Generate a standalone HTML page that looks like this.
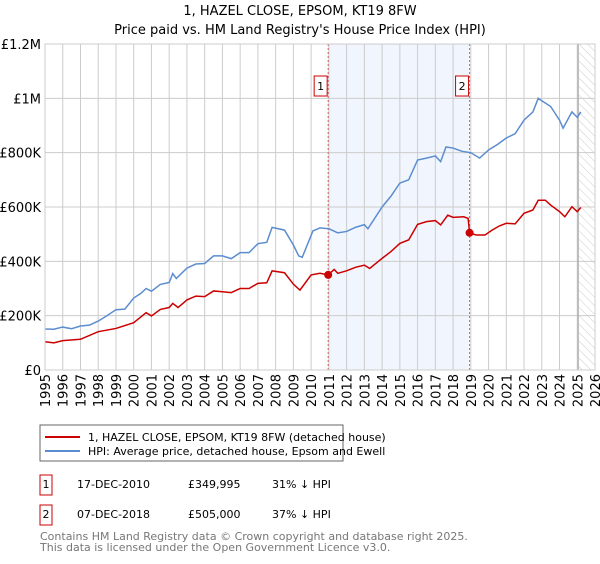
<!DOCTYPE html>
<html><head><meta charset="utf-8"><style>
body{margin:0;background:#fff;font-family:"DejaVu Sans","Liberation Sans",sans-serif;}
svg text{font-family:"DejaVu Sans","Liberation Sans",sans-serif;}
</style></head><body>
<svg id="c" width="600" height="560" xmlns="http://www.w3.org/2000/svg">
<defs><pattern id="hatch" width="6" height="6" patternUnits="userSpaceOnUse" patternTransform="rotate(-45)"><line x1="0" y1="0" x2="0" y2="6" stroke="#ccc" stroke-width="1"/></pattern></defs>
<text x="300" y="15" text-anchor="middle" font-size="13">1, HAZEL CLOSE, EPSOM, KT19 8FW</text>
<text x="300" y="34" text-anchor="middle" font-size="13">Price paid vs. HM Land Registry's House Price Index (HPI)</text>
<g id="grid"></g><g id="marks"></g>
<rect x="40" y="425" width="303" height="36" fill="#fff" stroke="#666"/>
<line x1="45" y1="437" x2="80" y2="437" stroke="#cc0000" stroke-width="2"/>
<text x="88" y="441" font-size="11">1, HAZEL CLOSE, EPSOM, KT19 8FW (detached house)</text>
<line x1="45" y1="451" x2="80" y2="451" stroke="#5b8dd0" stroke-width="2"/>
<text x="88" y="455" font-size="11">HPI: Average price, detached house, Epsom and Ewell</text>
<g font-size="11">
<rect x="40" y="475" width="12" height="20" fill="none" stroke="#cc0000"/>
<text x="46" y="488" text-anchor="middle">1</text>
<text x="77" y="488">17-DEC-2010</text><text x="188" y="488">£349,995</text><text x="272" y="488">31% ↓ HPI</text>
<rect x="40" y="505" width="12" height="20" fill="none" stroke="#cc0000"/>
<text x="46" y="518" text-anchor="middle">2</text>
<text x="77" y="518">07-DEC-2018</text><text x="188" y="518">£505,000</text><text x="272" y="518">37% ↓ HPI</text>
</g>
<text x="40" y="540" font-size="11" fill="#777">Contains HM Land Registry data © Crown copyright and database right 2025.</text>
<text x="40" y="551" font-size="11" fill="#777">This data is licensed under the Open Government Licence v3.0.</text>
</svg>
<script>
const yTicks=[0,200000,400000,600000,800000,1000000,1200000];
const yTickLabels=["£0","£200K","£400K","£600K","£800K","£1M","£1.2M"];
const xYears=[1995,1996,1997,1998,1999,2000,2001,2002,2003,2004,2005,2006,2007,2008,2009,2010,2011,2012,2013,2014,2015,2016,2017,2018,2019,2020,2021,2022,2023,2024,2025,2026];
const hpiT=[1995,1995.5,1996,1996.5,1997,1997.5,1998,1998.5,1999,1999.5,2000,2000.4,2000.7,2001,2001.5,2002,2002.2,2002.4,2003,2003.5,2004,2004.5,2005,2005.5,2006,2006.5,2007,2007.5,2007.8,2008.5,2009,2009.3,2009.5,2010.1,2010.5,2011,2011.5,2012,2012.5,2013,2013.2,2014,2014.5,2015,2015.5,2016,2016.5,2017,2017.3,2017.6,2018,2018.5,2019,2019.5,2020,2020.5,2021,2021.5,2022,2022.5,2022.8,2023,2023.5,2024,2024.2,2024.7,2025,2025.2];
const hpiV=[151000,150000,158000,152000,162000,165000,180000,200000,222000,224000,265000,282000,300000,290000,315000,322000,355000,337000,375000,390000,392000,420000,420000,410000,432000,432000,465000,470000,525000,515000,460000,420000,415000,512000,523000,520000,505000,510000,525000,535000,520000,600000,640000,688000,700000,773000,780000,788000,767000,821000,817000,805000,800000,780000,810000,830000,854000,870000,920000,950000,1000000,991000,970000,920000,890000,950000,930000,950000];
const ppT=[1995,1995.5,1996,1997,1998,1999,2000,2000.7,2001,2001.5,2002,2002.2,2002.5,2003,2003.5,2004,2004.5,2005,2005.5,2006,2006.5,2007,2007.5,2007.8,2008.5,2009,2009.37,2010,2010.5,2010.96,2011.3,2011.5,2012,2012.5,2013,2013.3,2014,2014.5,2015,2015.5,2016,2016.5,2017,2017.3,2017.7,2018,2018.6,2018.85,2018.93,2019.3,2019.8,2020.2,2020.6,2021,2021.5,2022,2022.5,2022.8,2023.2,2023.5,2024,2024.3,2024.7,2025,2025.2];
const ppV=[104000,100000,108000,113000,141000,153000,174000,211000,199000,223000,230000,245000,230000,258000,272000,270000,291000,288000,285000,300000,300000,319000,321000,365000,358000,316000,294000,350000,356000,349995,370000,356000,365000,378000,386000,374000,411000,436000,466000,479000,536000,546000,550000,534000,570000,562000,564000,558000,505000,497000,497000,515000,530000,540000,538000,577000,589000,625000,625000,607000,583000,564000,601000,583000,598000];
const saleT=[2010.96,2018.93];
const saleV=[349995,505000];
const saleLabels=["1","2"];
const L=45,R=595,T=44,B=370;
const X=t=>L+(t-1995)/(2026-1995)*(R-L);
const Y=v=>B-v/1200000*(B-T);
const NS="http://www.w3.org/2000/svg";
function mk(tag,attrs,parent){const e=document.createElementNS(NS,tag);for(const k in attrs)e.setAttribute(k,attrs[k]);parent.appendChild(e);return e;}
const g=document.getElementById('grid'),m=document.getElementById('marks');
let e;
e=mk('rect',{x:X(saleT[0]),y:T,width:X(saleT[1])-X(saleT[0]),height:B-T,fill:'#eef3fd',opacity:0.8},g);


e=mk('rect',{x:X(2025.1),y:T,width:R-X(2025.1),height:B-T,fill:'url(#hatch)'},g);


yTicks.forEach((v,i)=>{
 e=mk('line',{x1:L,x2:R,y1:Y(v),y2:Y(v),stroke:'#ccc'},g);
 
 
 e=mk('text',{x:L-4,y:Y(v)+5,'text-anchor':'end','font-size':13},g);e.textContent=yTickLabels[i];
 
 
});
xYears.forEach(yr=>{
 e=mk('line',{x1:X(yr),x2:X(yr),y1:T,y2:B,stroke:'#ccc'},g);
 
 
 e=mk('text',{x:0,y:0,'text-anchor':'end','font-size':13,transform:`translate(${X(yr)+5},${B+4}) rotate(-90)`},g);e.textContent=yr;
 
 
});
e=mk('line',{x1:X(2025.05),x2:X(2025.05),y1:T,y2:B,stroke:'#999'},g);


saleT.forEach((t,i)=>{
 e=mk('line',{x1:X(t),x2:X(t),y1:T,y2:B,stroke:'#e06060','stroke-dasharray':'2,2'},m);
 
 
});
e=mk('polyline',{points:hpiT.map((t,i)=>X(t)+','+Y(hpiV[i])).join(' '),fill:'none',stroke:'#5b8dd0','stroke-width':1.5},m);


e=mk('polyline',{points:ppT.map((t,i)=>X(t)+','+Y(ppV[i])).join(' '),fill:'none',stroke:'#cc0000','stroke-width':1.5},m);


saleT.forEach((t,i)=>{
 e=mk('circle',{cx:X(t),cy:Y(saleV[i]),r:4,fill:'#cc0000'},m);
 
 
 e=mk('rect',{x:X(t)-14,y:76,width:13,height:20,fill:'#fff',stroke:'#cc0000'},m);
 
 
 e=mk('text',{x:X(t)-7.5,y:90,'text-anchor':'middle','font-size':11},m);e.textContent=saleLabels[i];
 
 
});
e=mk('rect',{x:L,y:T,width:R-L,height:B-T,fill:'none',stroke:'#ccc'},m);


</script>
</body></html>
